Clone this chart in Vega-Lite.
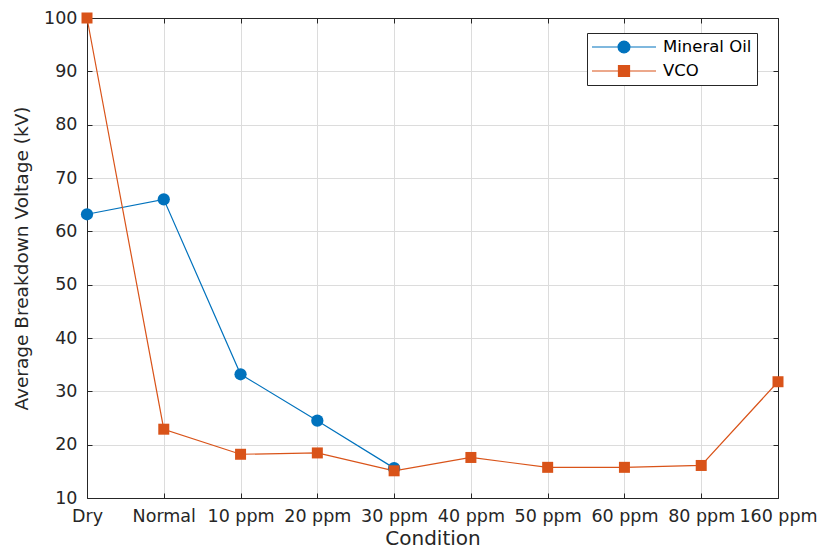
{
  "$schema": "https://vega.github.io/schema/vega-lite/v6.json",
  "width": 691,
  "height": 480,
  "autosize": "none",
  "padding": {"left": 87, "top": 18, "right": 43, "bottom": 57},
  "background": "white",
  "config": {
    "view": {"stroke": null},
    "font": "DejaVu Sans",
    "axis": {
      "domainColor": "#262626",
      "domainWidth": 1,
      "tickColor": "#262626",
      "tickSize": -5,
      "labelColor": "#262626",
      "titleColor": "#262626",
      "labelFont": "DejaVu Sans",
      "titleFont": "DejaVu Sans",
      "labelFontSize": 17.5,
      "titleFontWeight": "normal",
      "gridColor": "#dcdcdc",
      "gridWidth": 1
    }
  },
  "data": {
    "values": [
      {"condition": "Dry", "series": "Mineral Oil", "voltage": 63.2},
      {"condition": "Normal", "series": "Mineral Oil", "voltage": 66.0},
      {"condition": "10 ppm", "series": "Mineral Oil", "voltage": 33.2},
      {"condition": "20 ppm", "series": "Mineral Oil", "voltage": 24.5},
      {"condition": "30 ppm", "series": "Mineral Oil", "voltage": 15.6},
      {"condition": "Dry", "series": "VCO", "voltage": 100.0},
      {"condition": "Normal", "series": "VCO", "voltage": 22.9},
      {"condition": "10 ppm", "series": "VCO", "voltage": 18.2},
      {"condition": "20 ppm", "series": "VCO", "voltage": 18.45},
      {"condition": "30 ppm", "series": "VCO", "voltage": 15.1},
      {"condition": "40 ppm", "series": "VCO", "voltage": 17.6},
      {"condition": "50 ppm", "series": "VCO", "voltage": 15.75},
      {"condition": "60 ppm", "series": "VCO", "voltage": 15.75},
      {"condition": "80 ppm", "series": "VCO", "voltage": 16.1},
      {"condition": "160 ppm", "series": "VCO", "voltage": 31.8}
    ]
  },
  "resolve": {"scale": {"x": "independent", "y": "independent"}, "axis": {"x": "independent", "y": "independent"}},
  "layer": [
    {
      "encoding": {
        "x": {
          "field": "condition", "type": "ordinal",
          "scale": {"type": "point", "padding": 0, "domain": ["Dry", "Normal", "10 ppm", "20 ppm", "30 ppm", "40 ppm", "50 ppm", "60 ppm", "80 ppm", "160 ppm"]},
          "sort": null,
          "axis": {"orient": "bottom", "title": "Condition", "labelAngle": 0, "labelPadding": 14, "titleFontSize": 20, "titlePadding": 4, "grid": true, "labelOverlap": false}
        },
        "y": {
          "field": "voltage", "type": "quantitative",
          "scale": {"domain": [10, 100], "nice": false, "zero": false},
          "axis": {"orient": "left", "title": "Average Breakdown Voltage (kV)", "values": [10, 20, 30, 40, 50, 60, 70, 80, 90, 100], "labelPadding": 15, "titleFontSize": 18.5, "titlePadding": 12, "grid": true}
        }
      },
      "layer": [
        {
          "mark": {"type": "line", "strokeWidth": 1.2},
          "encoding": {
            "color": {
              "field": "series", "type": "nominal",
              "scale": {"domain": ["Mineral Oil", "VCO"], "range": ["#0072BD", "#D95319"]},
              "legend": {
                "title": null,
                "orient": "none",
                "legendX": 500,
                "legendY": 15,
                "padding": 5,
                "rowPadding": 6,
                "strokeColor": "#262626",
                "fillColor": "white",
                "labelFont": "DejaVu Sans",
                "labelFontSize": 16.5,
                "labelColor": "#000000",
                "symbolSize": 256,
                "symbolOffset": 23,
                "labelOffset": 30,
                "encode": {
                  "symbols": {
                    "update": {
                      "shape": [
                        {"test": "datum.value === 'VCO'", "value": "M-4,0H4M-0.69,-0.69H0.69V0.69H-0.69Z"},
                        {"value": "M-4,0H4M-0.74,0A0.74,0.74 0 1,1 0.74,0A0.74,0.74 0 1,1 -0.74,0Z"}
                      ],
                      "fill": [
                        {"test": "datum.value === 'VCO'", "value": "#D95319"},
                        {"value": "#0072BD"}
                      ],
                      "stroke": [
                        {"test": "datum.value === 'VCO'", "value": "#D95319"},
                        {"value": "#0072BD"}
                      ],
                      "strokeWidth": {"value": 1.2},
                      "opacity": {"value": 1}
                    }
                  }
                }
              }
            }
          }
        },
        {
          "transform": [{"filter": "datum.series === 'Mineral Oil'"}],
          "mark": {"type": "point", "shape": "circle", "filled": true, "opacity": 1, "size": 150},
          "encoding": {
            "color": {"field": "series", "type": "nominal", "legend": null}
          }
        },
        {
          "transform": [{"filter": "datum.series === 'VCO'"}],
          "mark": {"type": "point", "shape": "square", "filled": true, "opacity": 1, "size": 121},
          "encoding": {
            "color": {"field": "series", "type": "nominal", "legend": null}
          }
        }
      ]
    },
    {
      "mark": {"type": "point", "opacity": 0},
      "encoding": {
        "x": {
          "field": "condition", "type": "ordinal",
          "scale": {"type": "point", "padding": 0, "domain": ["Dry", "Normal", "10 ppm", "20 ppm", "30 ppm", "40 ppm", "50 ppm", "60 ppm", "80 ppm", "160 ppm"]},
          "sort": null,
          "axis": {"orient": "top", "title": null, "labels": false, "grid": false}
        },
        "y": {
          "field": "voltage", "type": "quantitative",
          "scale": {"domain": [10, 100], "nice": false, "zero": false},
          "axis": {"orient": "right", "title": null, "labels": false, "grid": false, "values": [10, 20, 30, 40, 50, 60, 70, 80, 90, 100]}
        }
      }
    }
  ]
}
